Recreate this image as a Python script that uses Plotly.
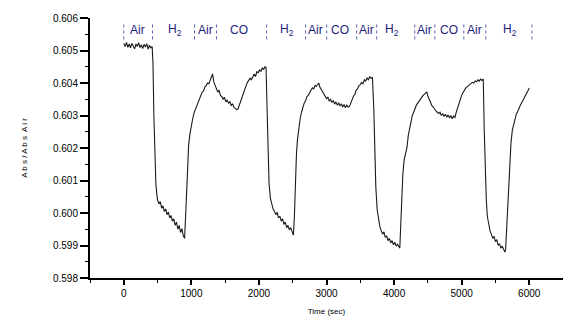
import plotly.graph_objects as go

# ---- data ----
time_s = [0, 20, 40, 60, 80, 100, 120, 140, 160, 180, 200, 220, 240, 260, 280, 300, 320, 340, 360, 380, 400, 420,
          432, 445, 460, 475, 490,
          500, 520, 540, 560, 580, 600, 620, 640, 660, 680, 700, 720, 740, 760, 780, 800, 820, 840, 860, 880, 900,
          915, 930, 945, 960, 980, 1000, 1020, 1040, 1060, 1080, 1100, 1120, 1140, 1160, 1180, 1200, 1220, 1240, 1260, 1280, 1300, 1314,
          1330, 1350, 1370, 1390, 1410, 1430, 1450, 1470, 1490, 1510, 1530, 1550, 1570, 1590, 1610, 1630, 1650, 1670, 1690,
          1710, 1730, 1750, 1770, 1790, 1810, 1830, 1850, 1870, 1890, 1910, 1930, 1950, 1970, 1990, 2010, 2030, 2050, 2070, 2090, 2105,
          2120, 2135, 2150, 2170, 2190, 2210,
          2230, 2250, 2270, 2290, 2310, 2330, 2350, 2370, 2390, 2410, 2430, 2450, 2470, 2490, 2510,
          2525, 2540, 2555, 2570, 2590, 2610, 2630, 2650, 2670, 2690, 2710, 2730, 2750, 2770, 2790, 2810, 2830, 2850, 2870, 2886,
          2900, 2920, 2940, 2960, 2980, 3000, 3020, 3040, 3060, 3080, 3100, 3120, 3140, 3160, 3180, 3200, 3220, 3240, 3260, 3280, 3300, 3320, 3340,
          3360, 3380, 3400, 3420, 3440, 3460, 3480, 3500, 3520, 3540, 3560, 3580, 3600, 3620, 3640, 3660, 3680,
          3700, 3715, 3730, 3750, 3770, 3790, 3810,
          3830, 3850, 3870, 3890, 3910, 3930, 3950, 3970, 3990, 4010, 4030, 4050, 4070, 4085,
          4100, 4115, 4130, 4150, 4170, 4190, 4210, 4230, 4250, 4270, 4290, 4310, 4330, 4350, 4370, 4390, 4410, 4430, 4450, 4470, 4485,
          4500, 4520, 4540, 4560, 4580, 4600, 4620, 4640, 4660, 4680, 4700, 4720, 4740, 4760, 4780, 4800, 4820, 4840, 4860, 4880, 4900,
          4920, 4940, 4960, 4980, 5000, 5020, 5040, 5060, 5080, 5100, 5120, 5140, 5160, 5180, 5200, 5220, 5240, 5260, 5280, 5300, 5320,
          5335, 5350, 5365, 5380, 5400, 5420,
          5440, 5460, 5480, 5500, 5520, 5540, 5560, 5580, 5600, 5620, 5640, 5650,
          5665, 5680, 5695, 5710, 5730, 5750, 5770, 5790, 5810, 5830, 5850, 5870, 5890, 5910, 5930, 5950, 5970, 5985, 6000]

abs_ratio = [0.60522, 0.60512, 0.60525, 0.60510, 0.60520, 0.60508, 0.60522, 0.60515, 0.60505, 0.60520, 0.60512, 0.60524, 0.60509, 0.60518, 0.60506, 0.60519, 0.60511, 0.60521, 0.60504, 0.60516, 0.60508, 0.60512,
             0.60460, 0.60300, 0.60160, 0.60090, 0.60055,
             0.60040, 0.60028, 0.60035, 0.60015, 0.60022, 0.60005, 0.60012, 0.59995, 0.60003, 0.59985, 0.59992, 0.59975, 0.59982, 0.59962, 0.59972, 0.59950, 0.59962, 0.59940, 0.59952, 0.59930, 0.59922,
             0.59990, 0.60080, 0.60160, 0.60210, 0.60245, 0.60272, 0.60290, 0.60308, 0.60318, 0.60332, 0.60340, 0.60352, 0.60358, 0.60372, 0.60375, 0.60388, 0.60392, 0.60400, 0.60398, 0.60412, 0.60418, 0.60428,
             0.60405, 0.60392, 0.60380, 0.60372, 0.60378, 0.60362, 0.60358, 0.60350, 0.60356, 0.60342, 0.60348, 0.60338, 0.60342, 0.60330, 0.60336, 0.60325, 0.60322, 0.60318, 0.60320,
             0.60332, 0.60345, 0.60362, 0.60370, 0.60385, 0.60392, 0.60402, 0.60408, 0.60415, 0.60410, 0.60422, 0.60428, 0.60420, 0.60435, 0.60432, 0.60440, 0.60436, 0.60446, 0.60442, 0.60450, 0.60448,
             0.60300, 0.60180, 0.60090, 0.60045, 0.60025, 0.60012,
             0.60005, 0.59995, 0.60002, 0.59985, 0.59990, 0.59975, 0.59982, 0.59965, 0.59972, 0.59955, 0.59962, 0.59948, 0.59955, 0.59940, 0.59932,
             0.59990, 0.60100, 0.60180, 0.60225, 0.60262, 0.60290, 0.60310, 0.60325, 0.60338, 0.60345, 0.60358, 0.60362, 0.60372, 0.60378, 0.60385, 0.60382, 0.60392, 0.60390, 0.60396, 0.60400,
             0.60388, 0.60380, 0.60372, 0.60365, 0.60360, 0.60352, 0.60356, 0.60345, 0.60350, 0.60340, 0.60346, 0.60335, 0.60342, 0.60332, 0.60338, 0.60330, 0.60336, 0.60326, 0.60334, 0.60324, 0.60332, 0.60326, 0.60328,
             0.60340, 0.60348, 0.60360, 0.60365, 0.60378, 0.60382, 0.60392, 0.60395, 0.60402, 0.60398, 0.60410, 0.60406, 0.60415, 0.60410, 0.60420, 0.60414, 0.60418,
             0.60320, 0.60180, 0.60080, 0.60010, 0.59975, 0.59958, 0.59945,
             0.59935, 0.59942, 0.59925, 0.59930, 0.59915, 0.59922, 0.59908, 0.59915, 0.59902, 0.59910, 0.59898, 0.59904, 0.59895, 0.59892,
             0.59970, 0.60060, 0.60120, 0.60165, 0.60185, 0.60200, 0.60238, 0.60262, 0.60282, 0.60300, 0.60310, 0.60322, 0.60332, 0.60338, 0.60345, 0.60352, 0.60358, 0.60362, 0.60366, 0.60370, 0.60373,
             0.60360, 0.60348, 0.60340, 0.60330, 0.60326, 0.60318, 0.60314, 0.60310, 0.60306, 0.60310, 0.60300, 0.60306, 0.60297, 0.60304, 0.60295, 0.60302, 0.60292, 0.60300, 0.60290, 0.60298, 0.60294,
             0.60310, 0.60325, 0.60340, 0.60352, 0.60362, 0.60370, 0.60378, 0.60384, 0.60388, 0.60392, 0.60396, 0.60398, 0.60402, 0.60400, 0.60406, 0.60404, 0.60410, 0.60406, 0.60412, 0.60408, 0.60412,
             0.60250, 0.60120, 0.60040, 0.59990, 0.59960, 0.59945,
             0.59935, 0.59922, 0.59928, 0.59912, 0.59918, 0.59900, 0.59906, 0.59892, 0.59898, 0.59886, 0.59880, 0.59885,
             0.59950, 0.60040, 0.60110, 0.60165, 0.60215, 0.60255, 0.60270, 0.60292, 0.60305, 0.60312, 0.60325, 0.60332, 0.60340, 0.60348, 0.60355, 0.60360, 0.60370, 0.60378, 0.60385]

gas_labels = ["Air", "H<sub>2</sub>", "Air", "CO", "H<sub>2</sub>", "Air", "CO", "Air", "H<sub>2</sub>", "Air", "CO", "Air", "H<sub>2</sub>"]
gas_label_t = [204, 751, 1210, 1699, 2410, 2840, 3196, 3596, 3966, 4455, 4810, 5196, 5714]
separator_t = [0, 425, 1047, 1373, 2114, 2691, 3003, 3447, 3743, 4306, 4603, 5032, 5358, 6040]

x_ticks = [0, 1000, 2000, 3000, 4000, 5000, 6000]
y_ticks = [0.598, 0.599, 0.600, 0.601, 0.602, 0.603, 0.604, 0.605, 0.606]

FONT = "Liberation Sans Narrow, Arial Narrow, Liberation Sans, Arial"
NAVY = "#1c1c7c"

fig = go.Figure()
fig.add_trace(go.Scatter(x=time_s, y=abs_ratio, mode="lines",
                         line=dict(color="#1a1a1a", width=1.1), showlegend=False))

for t in separator_t:
    fig.add_shape(type="line", xref="x", yref="y", x0=t, x1=t, y0=0.60534, y1=0.60588,
                  line=dict(color="#5a5ab8", width=1, dash="dot"))

for lab, t in zip(gas_labels, gas_label_t):
    fig.add_annotation(x=t, y=0.60562, xref="x", yref="y", text=lab, showarrow=False,
                       font=dict(family="Liberation Sans, Arial", size=12, color=NAVY))

fig.update_layout(
    width=563, height=322,
    margin=dict(l=90, r=0, t=18, b=44),
    paper_bgcolor="white", plot_bgcolor="white",
    font=dict(family=FONT, color="#000000"),
    xaxis=dict(range=[-500, 6500], tickvals=x_ticks, ticktext=[str(v) for v in x_ticks],
               showgrid=False, zeroline=False, showline=True, linecolor="black", linewidth=2,
               ticks="outside", ticklen=5, tickwidth=1.5, tickcolor="black",
               minor=dict(dtick=500, tick0=0, ticks="outside", ticklen=3, tickwidth=1.2, tickcolor="black"),
               tickfont=dict(size=10, family=FONT, color="#000000"),
               title=dict(text="Time (sec)", font=dict(size=8, family="Liberation Sans, Arial"), standoff=10)),
    yaxis=dict(range=[0.598, 0.606], tickvals=y_ticks, ticktext=[f"{v:.3f}" for v in y_ticks],
               showgrid=False, zeroline=False, showline=True, linecolor="black", linewidth=2,
               ticks="outside", ticklen=8, tickwidth=1.5, tickcolor="black",
               minor=dict(dtick=0.0005, tick0=0.598, ticks="outside", ticklen=3, tickwidth=1.2, tickcolor="black"),
               tickfont=dict(size=10, family=FONT, color="#000000"),
               title=dict(text="A b s / A b s  A i r", font=dict(size=8, family="Liberation Sans, Arial"), standoff=24)),
)

fig.write_html("out.html")
